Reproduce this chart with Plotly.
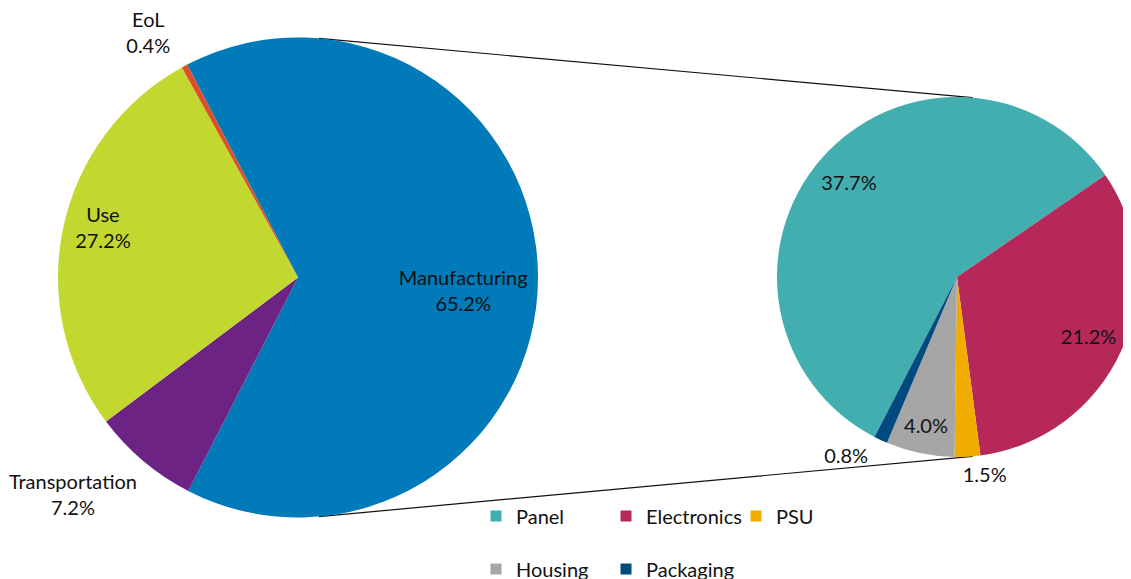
import math
import plotly.graph_objects as go

# ---- data ----
main_labels = ["Manufacturing", "Transportation", "Use", "EoL"]
main_values = [65.2, 7.2, 27.2, 0.4]
main_colors = ["#007AB8", "#6C2383", "#C3D82F", "#DC4F2A"]

sub_labels = ["Panel", "Electronics", "PSU", "Housing", "Packaging"]
sub_values = [37.7, 21.2, 1.5, 4.0, 0.8]
sub_colors = ["#43AEAF", "#B7285A", "#F0AD00", "#A6A6A6", "#004A7F"]
legend_rows = ["legend", "legend", "legend", "legend2", "legend2"]

W, H = 1131, 579
PAGE = 8          # the html body margin offsets the figure inside the window
FONT = "Lato"
FS = 20
TXT = "#111111"
CLEAR = "rgba(0,0,0,0)"
MAIN_ROT, SUB_ROT = -27.5, -152.7

# pie geometry (window pixels)
L_CX, L_CY, L_R = 298 - PAGE, 277.5 - PAGE, 240
R_CX, R_CY, R_R = 957 - PAGE, 277 - PAGE, 180

def dom(cx, cy, r):
    return dict(x=[(cx - r) / W, min(1.0, (cx + r) / W)],
                y=[1 - (cy + r) / H, 1 - (cy - r) / H])

LBL = "%{label}<br>%{value:.1f}%"
PCT = "%{value:.1f}%"

# label layers: (radius, hole, rotation offset, per-slice position, template)
main_layers = [
    (240, 0.38, 4.3, ["inside", "none", "none", "none"], LBL),
    (240, 0.68, 2.5, ["none", "none", "inside", "none"], LBL),
    (230, 0.0, 0.0, ["none", "none", "none", "outside"], LBL + "<br> "),
    (210, 0.0, 0.0, ["none", "outside", "none", "none"], " <br> <br>" + LBL),
]
sub_layers = [
    (180, 0.6, 0.0, ["inside", "inside", "none", "inside", "none"], PCT),
    (190, 0.0, 0.0, ["none", "none", "none", "none", "outside"], PCT),
    (188, 0.0, 2.5, ["none", "none", "outside", "none", "none"], PCT),
]

fig = go.Figure()

def pie(labels, values, colors, dom_, rot, hole=0, tmpl="", pos="none", hover=True):
    return go.Pie(
        labels=labels, values=values, sort=False, direction="clockwise",
        rotation=rot, hole=hole, marker=dict(colors=colors, line=dict(width=0)),
        texttemplate=tmpl, textposition=pos, insidetextorientation="horizontal",
        textfont=dict(family=FONT, size=FS, color=TXT),
        domain=dom_, showlegend=False,
        hoverinfo="label+value" if hover else "skip",
    )

# main pie and its transparent label layers
fig.add_trace(pie(main_labels, main_values, main_colors, dom(L_CX, L_CY, L_R), MAIN_ROT))
for r, hole, drot, pos, tmpl in main_layers:
    fig.add_trace(pie(main_labels, main_values, [CLEAR] * len(main_labels),
                      dom(L_CX, L_CY, r), MAIN_ROT + drot, hole, tmpl, pos, hover=False))

# breakdown pie and its transparent label layers
fig.add_trace(pie(sub_labels, sub_values, sub_colors, dom(R_CX, R_CY, R_R), SUB_ROT))
for r, hole, drot, pos, tmpl in sub_layers:
    fig.add_trace(pie(sub_labels, sub_values, [CLEAR] * len(sub_labels),
                      dom(R_CX, R_CY, r), SUB_ROT + drot, hole, tmpl, pos, hover=False))

# legend entries (two rows as in the original)
for lab, col, lg in zip(sub_labels, sub_colors, legend_rows):
    fig.add_trace(go.Scatter(
        x=[None], y=[None], mode="markers", name=lab, legend=lg,
        marker=dict(symbol="square", size=11, color=col), hoverinfo="skip",
    ))

# connector lines between the two pies
ang = math.radians(5)
def pt(cx, cy, r, a):
    return (cx + r * math.sin(a)) / W, 1 - (cy - r * math.cos(a)) / H

for a in (ang, math.pi - ang):
    x0, y0 = pt(L_CX, L_CY, L_R, a)
    x1, y1 = pt(R_CX, R_CY, R_R, a)
    fig.add_shape(type="line", xref="paper", yref="paper", x0=x0, y0=y0, x1=x1, y1=y1,
                  line=dict(color=TXT, width=1.2), layer="below")

leg_common = dict(orientation="h", xanchor="left", yanchor="middle", entrywidth=85,
                  font=dict(family=FONT, size=FS, color=TXT), bgcolor=CLEAR)
fig.update_layout(
    width=W, height=H, margin=dict(l=0, r=0, t=0, b=0, autoexpand=False),
    paper_bgcolor="white", plot_bgcolor="white",
    font=dict(family=FONT, size=FS, color=TXT),
    xaxis=dict(visible=False), yaxis=dict(visible=False),
    legend=dict(x=(476 - PAGE) / W, y=1 - (516 - PAGE) / H, **leg_common),
    legend2=dict(x=(476 - PAGE) / W, y=1 - (569 - PAGE) / H, **leg_common),
)

fig.write_html("out.html")
